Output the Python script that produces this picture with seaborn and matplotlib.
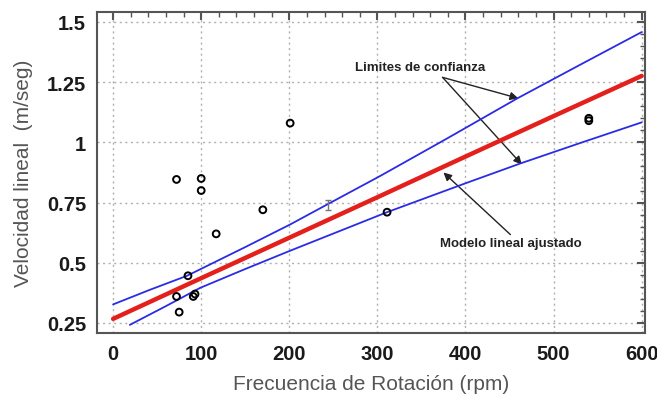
import matplotlib
matplotlib.use("Agg")
import matplotlib.pyplot as plt
from matplotlib.ticker import MultipleLocator
import seaborn as sns

# observed points (rpm, m/seg)
obs_rpm = [72, 100, 100, 201, 170, 117, 85, 72, 75, 91, 93, 311, 540, 540]
obs_vel = [0.846, 0.85, 0.80, 1.08, 0.72, 0.62, 0.446, 0.36, 0.295, 0.36, 0.37, 0.71, 1.09, 1.10]

# fitted line
fit_rpm = [0, 100, 200, 300, 400, 500, 600]
fit_vel = [0.267, 0.436, 0.604, 0.772, 0.941, 1.109, 1.276]

# confidence limits
up_rpm = [0, 42, 84, 150, 201, 243, 303, 380, 459, 530, 600]
up_vel = [0.327, 0.388, 0.446, 0.565, 0.659, 0.742, 0.86, 1.018, 1.183, 1.322, 1.458]
lo_rpm = [19, 60, 99, 150, 201, 256, 311, 400, 462, 530, 600]
lo_vel = [0.242, 0.32, 0.396, 0.474, 0.55, 0.63, 0.71, 0.83, 0.912, 0.997, 1.083]

# single point with error bar
eb_rpm = [244]
eb_vel = [0.74]
eb_err = [0.02]

sns.set_style("white")
plt.rcParams["font.family"] = ["Liberation Sans", "DejaVu Sans"]

fig = plt.figure(figsize=(6.57, 4.02), dpi=100)
ax = fig.add_axes([0.148, 0.169, 0.834, 0.799])

sns.lineplot(x=up_rpm, y=up_vel, color="#2b2be6", linewidth=1.3, ax=ax, zorder=4)
sns.lineplot(x=lo_rpm, y=lo_vel, color="#2b2be6", linewidth=1.3, ax=ax, zorder=4)
sns.lineplot(x=fit_rpm, y=fit_vel, color="#e3201b", linewidth=3.2, ax=ax, zorder=5)
sns.scatterplot(x=obs_rpm, y=obs_vel, marker="o", s=24, facecolor="none",
                edgecolor="black", linewidth=1.4, ax=ax, zorder=6)
ax.errorbar(eb_rpm, eb_vel, yerr=eb_err, fmt="none", ecolor="#777777",
            elinewidth=1, capsize=2.5, zorder=6)

ax.set_xlim(-18, 604)
ax.set_ylim(0.208, 1.542)
ax.xaxis.set_major_locator(MultipleLocator(100))
ax.xaxis.set_minor_locator(MultipleLocator(20))
ax.set_yticks([0.25, 0.5, 0.75, 1.0, 1.25, 1.5])
ax.set_yticklabels(["0.25", "0.5", "0.75", "1", "1.25", "1.5"])
ax.yaxis.set_minor_locator(MultipleLocator(0.05))
ax.tick_params(which="both", direction="in", top=True, right=True,
               color="#555555")
ax.tick_params(which="major", length=6, width=1.5, labelsize=14.5, pad=8)
ax.tick_params(which="minor", length=3.5, width=1)
for lab in ax.get_xticklabels() + ax.get_yticklabels():
    lab.set_fontweight("bold")
    lab.set_color("#1a1a1a")

ax.grid(True, which="major", linestyle=(0, (1.5, 2.5)), color="#b0b0b0", linewidth=1)
for sp in ax.spines.values():
    sp.set_color("#555555")
    sp.set_linewidth(1.5)

ax.set_xlabel("Frecuencia de Rotación (rpm)", fontsize=15, color="#555555", labelpad=8)
ax.set_ylabel("Velocidad lineal  (m/seg)", fontsize=15, color="#555555", labelpad=10)

arrow = dict(arrowstyle="-|>", color="#222222", lw=1, shrinkA=0, shrinkB=0,
             mutation_scale=12)
ax.text(349, 1.3125, "Limites de confianza", fontsize=9.5, fontweight="bold",
        ha="center", va="center", color="#222222", zorder=7)
ax.annotate("", xy=(460, 1.183), xytext=(374, 1.27), arrowprops=arrow)
ax.annotate("", xy=(464, 0.908), xytext=(374, 1.27), arrowprops=arrow)
ax.text(451, 0.583, "Modelo lineal ajustado", fontsize=9.5, fontweight="bold",
        ha="center", va="center", color="#222222", zorder=7)
ax.annotate("", xy=(375, 0.875), xytext=(451, 0.617), arrowprops=arrow)

fig.savefig("out.png", dpi=100)
